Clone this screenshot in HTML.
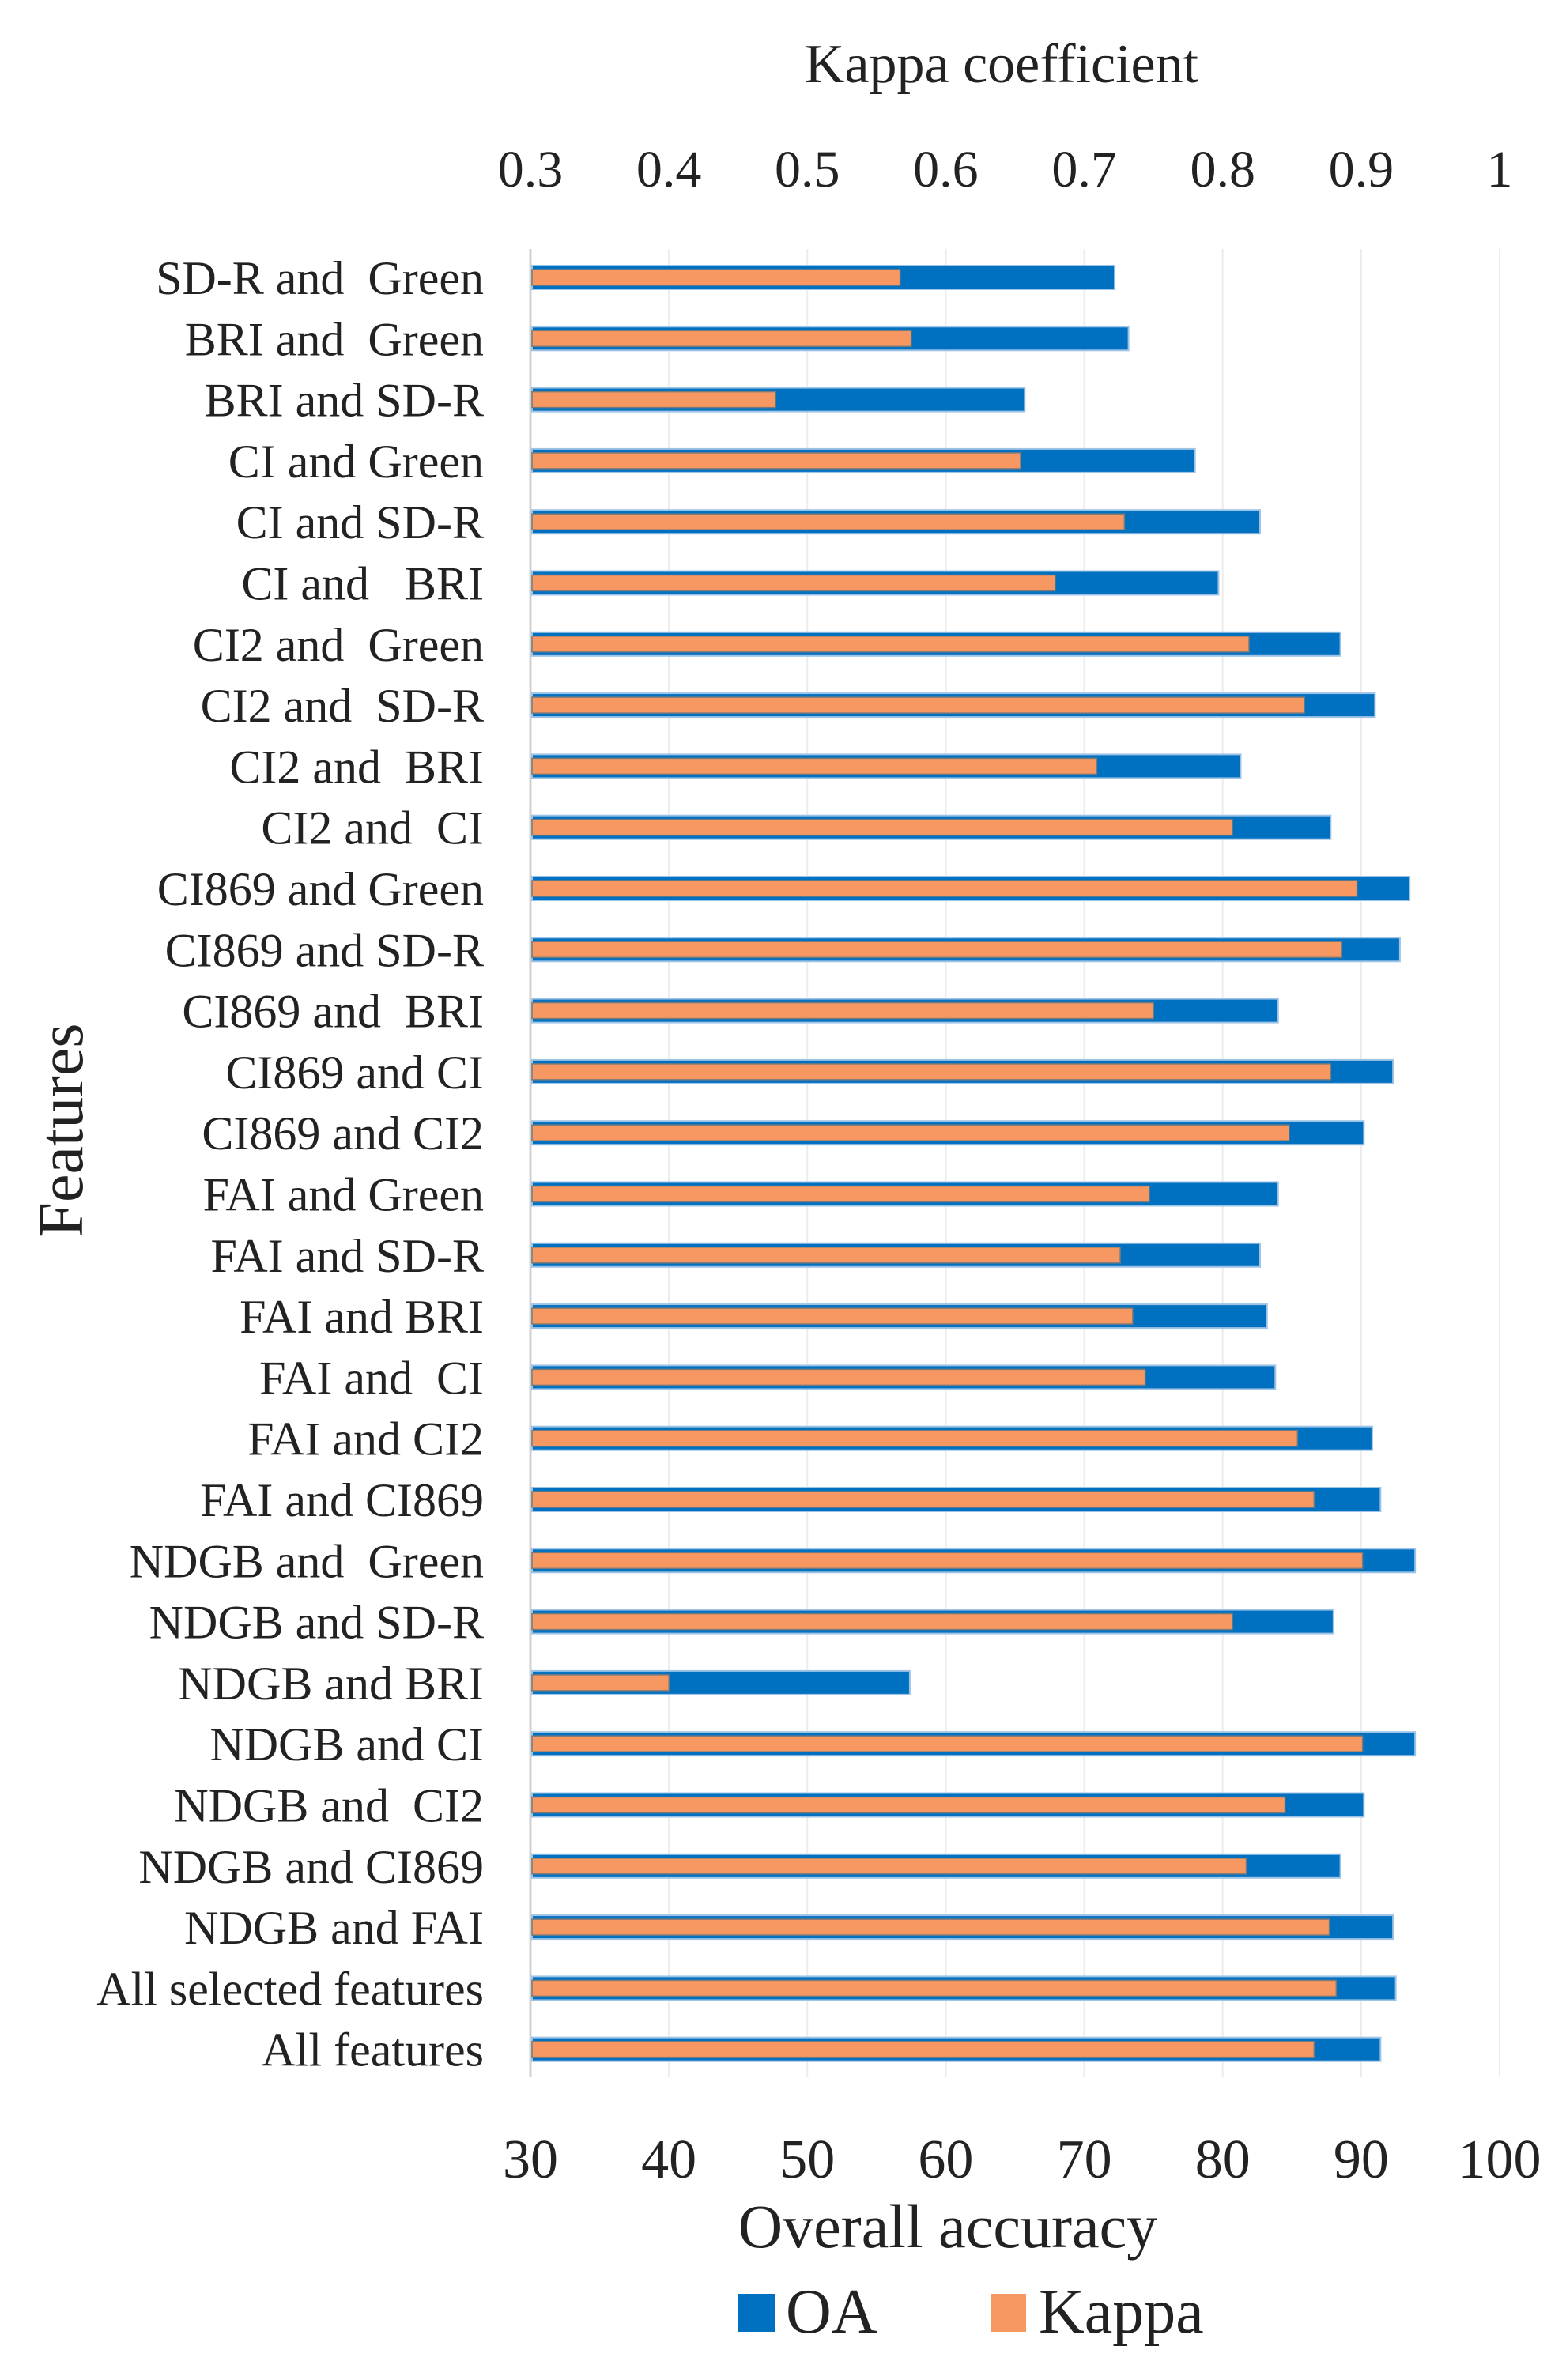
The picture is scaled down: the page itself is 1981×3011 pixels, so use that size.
<!DOCTYPE html>
<html><head><meta charset="utf-8"><style>
html,body{margin:0;padding:0;background:#fff;}
svg{display:block;font-family:"Liberation Serif",serif;}
</style></head><body>
<svg id="chart" width="1981" height="3011" viewBox="0 0 1981 3011">
<g id="grid"></g>
<g id="bars"></g>
<g id="labels"></g>
<g id="ticks"></g>
<text x="1267" y="104" font-size="70" text-anchor="middle" fill="#222">Kappa coefficient</text>
<text x="1199" y="2843" font-size="78" text-anchor="middle" fill="#222">Overall accuracy</text>
<text transform="translate(104,1430) rotate(-90)" font-size="80" text-anchor="middle" fill="#222">Features</text>
<g>
<rect x="934" y="2902" width="46" height="48" fill="#0070c0"/>
<text x="994" y="2951" font-size="80" fill="#222">OA</text>
<rect x="1254" y="2902" width="44" height="48" fill="#f79862"/>
<text x="1314" y="2951" font-size="80" fill="#222">Kappa</text>
</g>
</svg>
<script>
const categories = ["SD-R and  Green","BRI and  Green","BRI and SD-R","CI and Green","CI and SD-R","CI and   BRI","CI2 and  Green","CI2 and  SD-R","CI2 and  BRI","CI2 and  CI","CI869 and Green","CI869 and SD-R","CI869 and  BRI","CI869 and CI","CI869 and CI2","FAI and Green","FAI and SD-R","FAI and BRI","FAI and  CI","FAI and CI2","FAI and CI869","NDGB and  Green","NDGB and SD-R","NDGB and BRI","NDGB and CI","NDGB and  CI2","NDGB and CI869","NDGB and FAI","All selected features","All features"];
const oaValues = [72.2,73.2,65.7,78.0,82.7,79.7,88.5,91.0,81.3,87.8,93.5,92.8,84.0,92.3,90.2,84.0,82.7,83.2,83.8,90.8,91.4,93.9,88.0,57.4,93.9,90.2,88.5,92.3,92.5,91.4];
const kappaValues = [0.567,0.575,0.477,0.654,0.729,0.679,0.819,0.859,0.709,0.807,0.897,0.886,0.750,0.878,0.848,0.747,0.726,0.735,0.744,0.854,0.866,0.901,0.807,0.400,0.901,0.845,0.817,0.877,0.882,0.866];
const oaTicks = [30,40,50,60,70,80,90,100];
const kappaTicks = ["0.3","0.4","0.5","0.6","0.7","0.8","0.9","1"];

const NS="http://www.w3.org/2000/svg";
const X0=671, X1=1897, OAMIN=30, OAMAX=100;
const xOA = v => X0 + (v-OAMIN)/(OAMAX-OAMIN)*(X1-X0);
const xK = v => xOA(v*100);
const ROW0=351, ROWSTEP=77.3;
const yRow = i => ROW0 + i*ROWSTEP;
function mk(tag, attrs, parent){const e=document.createElementNS(NS,tag);for(const k in attrs)e.setAttribute(k,attrs[k]);parent.appendChild(e);return e;}
const grid=document.getElementById('grid'), bars=document.getElementById('bars'), labels=document.getElementById('labels'), ticks=document.getElementById('ticks');

oaTicks.forEach((t,i)=>{
  const l=mk('line',{x1:xOA(t),x2:xOA(t),y1:315,y2:2628,stroke:i===0?'#d0d0d0':'#ececec','stroke-width':i===0?3:2},grid);
  
  
  const tx=mk('text',{x:xOA(t),y:2755,'font-size':70,'text-anchor':'middle',fill:'#222'},ticks);
  tx.textContent=t;
  
  
});
kappaTicks.forEach(t=>{
  const tx=mk('text',{x:xK(parseFloat(t)),y:236,'font-size':66,'text-anchor':'middle',fill:'#222'},ticks);
  tx.textContent=t;
  
  
});
categories.forEach((c,i)=>{
  const y=yRow(i);
  const oa=mk('rect',{x:X0+2,y:y-15,width:xOA(oaValues[i])-X0-2,height:30,fill:'#0070c0',stroke:'#9dc3e6','stroke-width':2},bars);
  
  
  const k=mk('rect',{x:X0+2,y:y-10,width:xK(kappaValues[i])-X0-2,height:20,fill:'#f79862',stroke:'#7a7a7a','stroke-width':1.5},bars);
  
  
  const tx=mk('text',{x:612,y:y+21,'font-size':60,'text-anchor':'end',fill:'#222'},labels);
  tx.style.whiteSpace='pre';
  tx.textContent=c;
  
  
});
</script>
</body></html>
